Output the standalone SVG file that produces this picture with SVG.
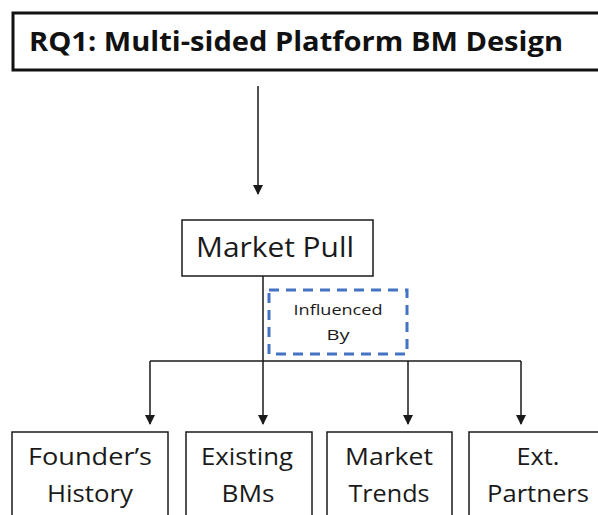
<svg xmlns="http://www.w3.org/2000/svg" width="598" height="515" viewBox="0 0 598 515">
<defs>
<style>
.t{font-family:"Open Sans","Liberation Sans",sans-serif;fill:#1a1a1a;text-anchor:middle}
.box{fill:#fff;stroke:#1a1a1a;stroke-width:1.5}
.ln{fill:none;stroke:#1a1a1a;stroke-width:1.5}
</style>
<marker id="ah" markerWidth="10" markerHeight="10" refX="9" refY="5" orient="auto" markerUnits="userSpaceOnUse">
<path d="M0,0 L10,5 L0,10 Z" fill="#1a1a1a"/>
</marker>
</defs>
<rect width="598" height="515" fill="#fff"/>
<g id="title">
<rect x="13" y="13" width="600" height="57" fill="#fff" stroke="#111" stroke-width="3"/>
<text x="29" y="51" style="font-family:'Open Sans','Liberation Sans',sans-serif;font-weight:bold;font-size:26px;fill:#111" textLength="534" lengthAdjust="spacingAndGlyphs">RQ1: Multi-sided Platform BM Design</text>
</g>
<g id="connectors">
<line class="ln" x1="258" y1="86" x2="258" y2="194" marker-end="url(#ah)"/>
<line class="ln" x1="263" y1="276" x2="263" y2="424" marker-end="url(#ah)"/>
<line class="ln" x1="150" y1="361" x2="521" y2="361"/>
<line class="ln" x1="150" y1="361" x2="150" y2="424" marker-end="url(#ah)"/>
<line class="ln" x1="408" y1="361" x2="408" y2="424" marker-end="url(#ah)"/>
<line class="ln" x1="521" y1="361" x2="521" y2="424" marker-end="url(#ah)"/>
</g>
<g id="market-pull">
<rect class="box" x="182" y="220" width="191" height="56"/>
<text class="t" x="275" y="257" font-size="28" textLength="158" lengthAdjust="spacingAndGlyphs">Market Pull</text>
</g>
<g id="influenced-by">
<rect x="269" y="290" width="138" height="64" fill="#fff" stroke="#4472C4" stroke-width="3" stroke-dasharray="10,7"/>
<text class="t" x="338" y="315" font-size="15" textLength="89" lengthAdjust="spacingAndGlyphs">Influenced</text>
<text class="t" x="338" y="340" font-size="15" textLength="23" lengthAdjust="spacingAndGlyphs">By</text>
</g>
<g id="founders-history">
<rect class="box" x="12" y="432" width="156" height="100"/>
<text class="t" x="90" y="465" font-size="23" textLength="124" lengthAdjust="spacingAndGlyphs">Founder’s</text>
<text class="t" x="90" y="502" font-size="23" textLength="86" lengthAdjust="spacingAndGlyphs">History</text>
</g>
<g id="existing-bms">
<rect class="box" x="186" y="432" width="126" height="100"/>
<text class="t" x="247" y="465" font-size="23" textLength="92" lengthAdjust="spacingAndGlyphs">Existing</text>
<text class="t" x="248" y="502" font-size="23" textLength="53" lengthAdjust="spacingAndGlyphs">BMs</text>
</g>
<g id="market-trends">
<rect class="box" x="327" y="432" width="125" height="100"/>
<text class="t" x="389" y="465" font-size="23" textLength="88" lengthAdjust="spacingAndGlyphs">Market</text>
<text class="t" x="389" y="502" font-size="23" textLength="81" lengthAdjust="spacingAndGlyphs">Trends</text>
</g>
<g id="ext-partners">
<rect class="box" x="469" y="432" width="140" height="100"/>
<text class="t" x="538" y="465" font-size="23" textLength="43" lengthAdjust="spacingAndGlyphs">Ext.</text>
<text class="t" x="538" y="502" font-size="23" textLength="102" lengthAdjust="spacingAndGlyphs">Partners</text>
</g>
</svg>
